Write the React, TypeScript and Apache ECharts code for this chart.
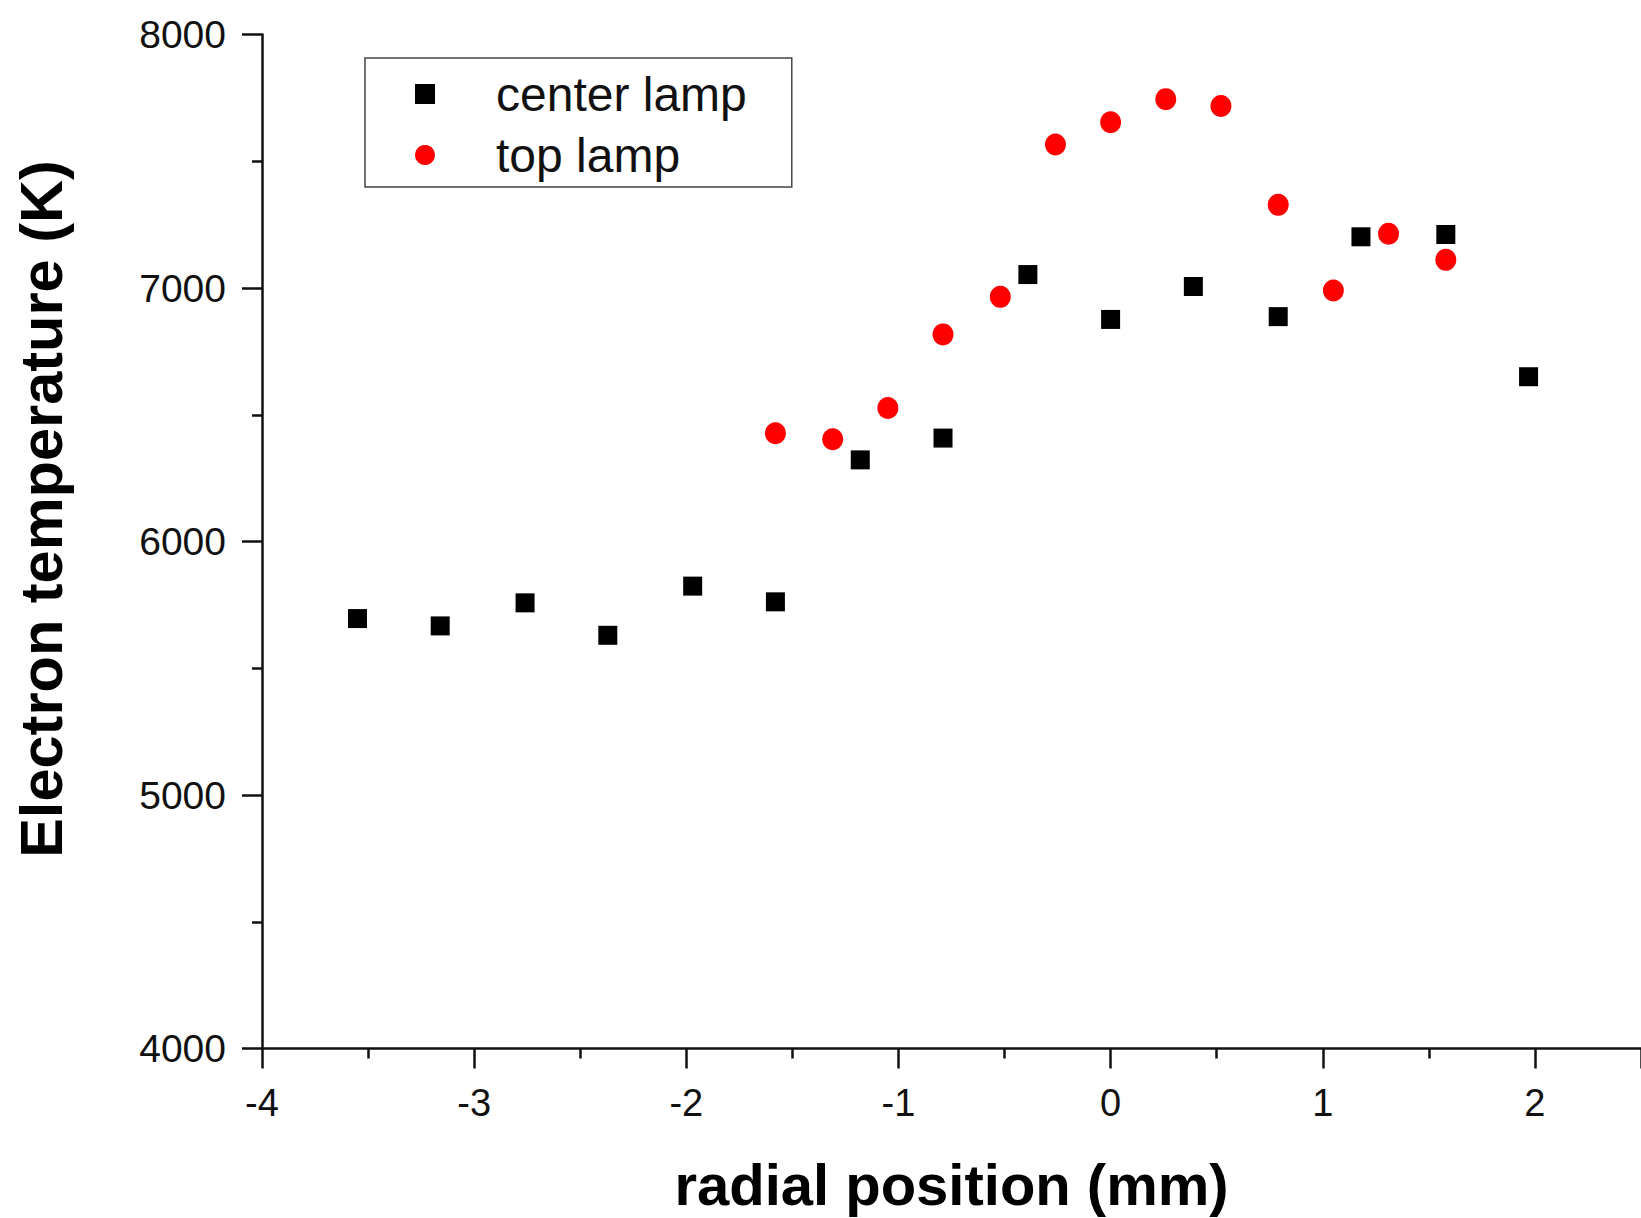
import React, { useEffect, useRef } from "react";
import * as echarts from "echarts";

// Radial position (mm) and electron temperature (K) for each lamp
const centerX = [-3.55, -3.16, -2.76, -2.37, -1.97, -1.58, -1.18, -0.79, -0.39, 0, 0.39, 0.79, 1.18, 1.58, 1.97];
const centerT = [5696, 5667, 5758, 5630, 5824, 5762, 6322, 6408, 7053, 6876, 7006, 6887, 7202, 7211, 6650];

const topX = [-1.58, -1.31, -1.05, -0.79, -0.52, -0.26, 0, 0.26, 0.52, 0.79, 1.05, 1.31, 1.58];
const topT = [6427, 6403, 6527, 6817, 6965, 7566, 7654, 7745, 7718, 7328, 6990, 7214, 7111];

const seriesNames = ["center lamp", "top lamp"];
const xTitle = "radial position (mm)";
const yTitle = "Electron temperature (K)";

const FONT = "'Liberation Sans', Arial, sans-serif";

export default function App() {
  const ref = useRef<HTMLDivElement>(null);

  useEffect(() => {
    if (!ref.current) return;
    const chart = echarts.init(ref.current, null, { renderer: "svg" });

    const axisCommon = {
      axisLine: { show: true, onZero: false, lineStyle: { color: "#111", width: 2.5 } },
      axisTick: { show: true, inside: false, length: 20, lineStyle: { color: "#111", width: 2.5 } },
      minorTick: { show: true, splitNumber: 2, length: 10, lineStyle: { color: "#111", width: 2.5 } },
      splitLine: { show: false },
      minorSplitLine: { show: false },
    };

    chart.setOption({
      animation: false,
      backgroundColor: "#ffffff",
      grid: {
        left: 262,
        top: 34.5,
        right: 0,
        bottom: 169.5,
        containLabel: false,
        outerBoundsMode: "none",
      },
      xAxis: {
        type: "value",
        min: -4,
        max: 2.5,
        interval: 1,
        ...axisCommon,
        axisLabel: {
          color: "#111",
          fontFamily: FONT,
          fontSize: 38,
          margin: 35,
          showMaxLabel: false,
          formatter: (v: number) => String(v),
        },
        name: xTitle,
        nameLocation: "middle",
        nameGap: 107,
        nameTextStyle: {
          color: "#000",
          fontFamily: FONT,
          fontWeight: "bold",
          fontSize: 58,
        },
      },
      yAxis: {
        type: "value",
        min: 4000,
        max: 8000,
        interval: 1000,
        ...axisCommon,
        axisLabel: {
          color: "#111",
          fontFamily: FONT,
          fontSize: 39,
          margin: 36,
          formatter: (v: number) => String(v),
        },
      },
      graphic: [
        {
          type: "text",
          x: 41,
          y: 509,
          rotation: Math.PI / 2,
          style: {
            text: yTitle,
            fill: "#000",
            font: `bold 59.5px ${FONT}`,
            textAlign: "center",
            textVerticalAlign: "middle",
          },
        },
      ],
      legend: {
        orient: "vertical",
        left: 365,
        top: 58,
        padding: [12, 45, 8, 50],
        itemGap: 13,
        itemWidth: 20,
        itemHeight: 20,
        borderColor: "#444",
        borderWidth: 1.5,
        backgroundColor: "#fff",
        data: seriesNames,
        textStyle: {
          color: "#111",
          fontFamily: FONT,
          fontSize: 48,
          padding: [0, 0, 0, 56],
        },
      },
      series: [
        {
          name: seriesNames[0],
          type: "scatter",
          symbol: "rect",
          symbolSize: [19, 19],
          itemStyle: { color: "#000000", opacity: 1 },
          data: centerX.map((x, i) => [x, centerT[i]]),
        },
        {
          name: seriesNames[1],
          type: "scatter",
          symbol: "circle",
          symbolSize: [21, 22],
          itemStyle: { color: "#ff0000", opacity: 1 },
          data: topX.map((x, i) => [x, topT[i]]),
        },
      ],
    });

    return () => chart.dispose();
  }, []);

  return (
    <div
      ref={ref}
      style={{ position: "absolute", left: 0, top: 0, width: 1641, height: 1218 }}
    />
  );
}
